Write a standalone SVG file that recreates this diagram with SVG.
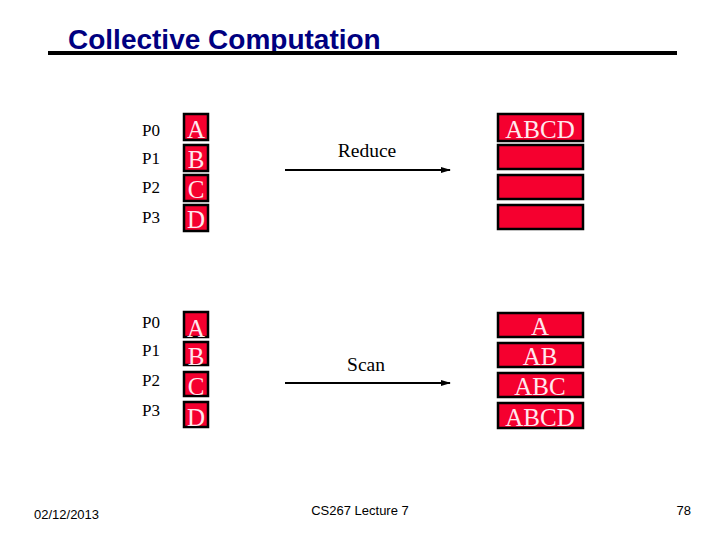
<svg xmlns="http://www.w3.org/2000/svg" width="720" height="540" viewBox="0 0 720 540">
<defs>
<marker id="ah" viewBox="0 0 10 10" refX="9" refY="5" markerWidth="5" markerHeight="5" orient="auto" markerUnits="strokeWidth"><path d="M0,2 L10,5 L0,8 z" fill="#000"/></marker>
<style>
.p{font-family:"Liberation Serif",serif;font-size:17px;fill:#000}
.box{fill:#F5002F;stroke:#000;stroke-width:2.5}
.bt{font-family:"Liberation Serif",serif;font-size:25px;fill:#FFE8EE;text-anchor:middle}
.op{font-family:"Liberation Serif",serif;font-size:19.5px;fill:#000;text-anchor:middle}
.ft{font-family:"Liberation Sans",Arial,sans-serif;font-size:13px;fill:#000}
.arr{stroke:#000;stroke-width:2;fill:none;marker-end:url(#ah)}
</style>
</defs>
<rect width="720" height="540" fill="#fff"/>
<g id="title">
<text x="68" y="49" font-family="'Liberation Sans',Arial,sans-serif" font-size="28" font-weight="bold" fill="#000080">Collective Computation</text>
<line x1="48" y1="53" x2="677" y2="53" stroke="#000" stroke-width="4"/>
</g>
<g id="reduce-labels">
<text class="p" x="142" y="136">P0</text>
<text class="p" x="142" y="164">P1</text>
<text class="p" x="142" y="193">P2</text>
<text class="p" x="142" y="223">P3</text>
</g>
<g id="reduce-in">
<rect class="box" x="184" y="114" width="24" height="26"/><text class="bt" x="196" y="138">A</text>
<rect class="box" x="184" y="145" width="24" height="26"/><text class="bt" x="196" y="168">B</text>
<rect class="box" x="184" y="175" width="24" height="26"/><text class="bt" x="196" y="198">C</text>
<rect class="box" x="184" y="205" width="24" height="26"/><text class="bt" x="196" y="228">D</text>
</g>
<g id="reduce-out">
<rect class="box" x="498" y="114" width="85" height="27"/><text class="bt" x="540" y="138">ABCD</text>
<rect class="box" x="498" y="145" width="85" height="24"/>
<rect class="box" x="498" y="175" width="85" height="24"/>
<rect class="box" x="498" y="205" width="85" height="24"/>
</g>
<g id="scan-labels">
<text class="p" x="142" y="328">P0</text>
<text class="p" x="142" y="356">P1</text>
<text class="p" x="142" y="386">P2</text>
<text class="p" x="142" y="416">P3</text>
</g>
<g id="scan-in">
<rect class="box" x="184" y="312" width="24" height="25"/><text class="bt" x="196" y="337">A</text>
<rect class="box" x="184" y="342" width="24" height="23"/><text class="bt" x="196" y="365">B</text>
<rect class="box" x="184" y="372" width="24" height="24"/><text class="bt" x="196" y="395">C</text>
<rect class="box" x="184" y="402" width="24" height="25"/><text class="bt" x="196" y="426">D</text>
</g>
<g id="scan-out">
<rect class="box" x="498" y="313" width="85" height="24"/><text class="bt" x="540" y="335">A</text>
<rect class="box" x="498" y="343" width="85" height="24"/><text class="bt" x="540" y="365">AB</text>
<rect class="box" x="498" y="373" width="85" height="24"/><text class="bt" x="540" y="395">ABC</text>
<rect class="box" x="498" y="403" width="85" height="25"/><text class="bt" x="540" y="426">ABCD</text>
</g>
<g id="connectors">
<line class="arr" x1="285" y1="170" x2="450" y2="170"/>
<text class="op" x="367" y="157">Reduce</text>
<line class="arr" x1="285" y1="383" x2="450" y2="383"/>
<text class="op" x="366" y="371">Scan</text>
</g>
<g id="footer">
<text class="ft" x="34" y="519" font-size="12">02/12/2013</text>
<text class="ft" x="360" y="515" text-anchor="middle" font-size="14">CS267 Lecture 7</text>
<text class="ft" x="691" y="515" text-anchor="end">78</text>
</g>
</svg>
